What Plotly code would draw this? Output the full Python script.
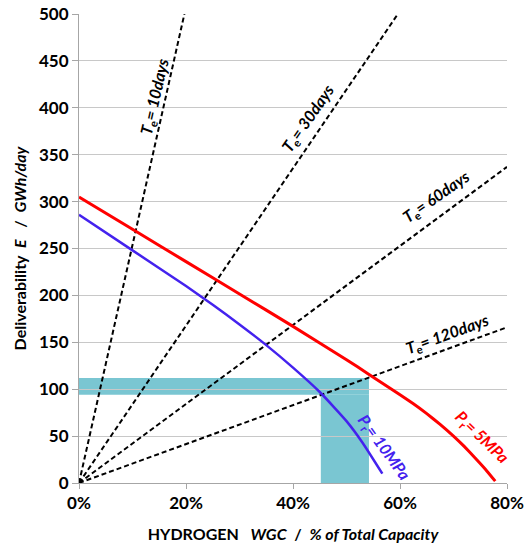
import plotly.graph_objects as go

# Working gas capacity (% of total capacity) vs deliverability (GWh/day)
wgc_5mpa = [0, 10, 20, 30, 40, 50, 54, 56, 58, 60, 62.5, 65, 67.5, 70, 72, 74, 76, 77.8]
e_5mpa = [305, 270.5, 236, 201.5, 167, 131.5, 116.5, 109, 101.5, 94, 84.5, 74, 62.5, 50, 39, 27, 14.5, 2]

wgc_10mpa = [0, 10, 20, 25, 30, 35, 40, 45, 50, 53, 56.7]
e_10mpa = [286, 248, 210, 190, 169, 147, 123, 97, 66, 43, 10]

# Constant-emptying-time lines, drawn from the origin to where they leave the plot
te_days = [10, 30, 60, 120]
te_end_wgc = [19.7, 59.6, 80, 80]
te_end_e = [500, 500, 337, 166]
te_label_wgc = [14.2, 42.8, 66.9, 68.8]
te_label_e = [412, 389, 305, 158]
te_label_angle = [-77, -55, -35, -20]

# Highlighted operating window
target_e = [94, 112]
target_wgc = [45.2, 54.2]

x_ticks = [0, 20, 40, 60, 80]
x_ticktext = ["0%", "20%", "40%", "60%", "80%"]
y_ticks = [0, 50, 100, 150, 200, 250, 300, 350, 400, 450, 500]

FONT = "Lato, 'Open Sans', sans-serif"
BAND = "rgb(122,198,210)"

fig = go.Figure()

for d, xe, ye in zip(te_days, te_end_wgc, te_end_e):
    fig.add_trace(go.Scatter(x=[0, xe], y=[0, ye], mode="lines",
                             line=dict(color="black", width=2, dash="5px,3px"),
                             showlegend=False, hoverinfo="skip"))

fig.add_trace(go.Scatter(x=wgc_10mpa, y=e_10mpa, mode="lines",
                         line=dict(color="#4422EE", width=2.5, shape="spline", smoothing=0.5),
                         showlegend=False))
fig.add_trace(go.Scatter(x=wgc_5mpa, y=e_5mpa, mode="lines",
                         line=dict(color="#FF0000", width=3, shape="spline", smoothing=0.3),
                         showlegend=False))

# band shapes
fig.add_shape(type="rect", xref="x", yref="y", x0=0, x1=target_wgc[1],
              y0=target_e[0], y1=target_e[1], fillcolor=BAND, line_width=0, layer="below")
fig.add_shape(type="rect", xref="x", yref="y", x0=target_wgc[0], x1=target_wgc[1],
              y0=0, y1=target_e[0], fillcolor=BAND, line_width=0, layer="below")

for d, lx, ly, ang in zip(te_days, te_label_wgc, te_label_e, te_label_angle):
    fig.add_annotation(x=lx, y=ly, xref="x", yref="y", showarrow=False,
                       text=f"<b><i>T</i><sub>e</sub><i>= {d}days</i></b>",
                       textangle=ang, font=dict(family=FONT, size=16, color="black"))

fig.add_annotation(x=57, y=38, xref="x", yref="y", showarrow=False,
                   text="<b><i>P</i><sub>r</sub><i>= 10MPa</i></b>", textangle=54,
                   font=dict(family=FONT, size=16, color="#4422EE"))
fig.add_annotation(x=75.3, y=48, xref="x", yref="y", showarrow=False,
                   text="<b><i>P</i><sub>r</sub><i>= 5MPa</i></b>", textangle=44,
                   font=dict(family=FONT, size=16, color="#FF0000"))

fig.update_layout(
    width=525, height=554,
    margin=dict(l=79, r=18, t=14, b=71),
    paper_bgcolor="white", plot_bgcolor="white",
    font=dict(family=FONT, size=15, color="black"),
    showlegend=False,
)
fig.update_xaxes(range=[0, 80], tickvals=x_ticks,
                 ticktext=[f"<b>{t}</b>" for t in x_ticktext],
                 showgrid=False, showline=True, linecolor="#A6A6A6", linewidth=1,
                 ticks="outside", ticklen=5, tickcolor="#A6A6A6",
                 tickfont=dict(family=FONT, size=17, color="black"),
                 ticklabeloverflow="allow",
                 title=dict(text="<b>HYDROGEN   <i>WGC</i>  /  <i>% of Total Capacity</i></b>",
                            font=dict(family=FONT, size=16), standoff=16),
                 zeroline=False, automargin=False)
fig.update_yaxes(range=[0, 500], tickvals=y_ticks,
                 ticktext=[f"<b>{v}</b>" for v in y_ticks],
                 showgrid=True, gridcolor="#C8C8C8", gridwidth=1,
                 showline=True, linecolor="#A6A6A6", linewidth=1,
                 ticks="outside", ticklen=6, tickcolor="#A6A6A6",
                 tickfont=dict(family=FONT, size=17, color="black"),
                 ticklabeloverflow="allow",
                 title=dict(text="<b>Deliverability  <i>E</i>   /  <i>GWh/day</i></b>",
                            font=dict(family=FONT, size=16), standoff=8),
                 zeroline=False, automargin=False)

fig.write_html("out.html", config={"displayModeBar": False},
               post_script="document.body.style.margin='0';")
